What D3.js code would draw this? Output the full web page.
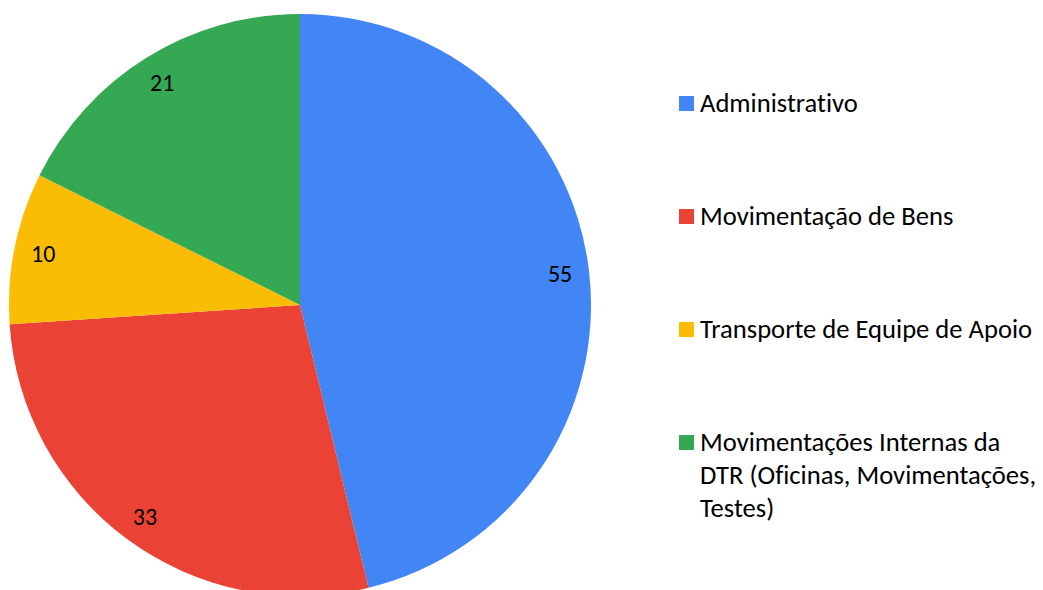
<!DOCTYPE html>
<html>
<head>
<meta charset="utf-8">
<script src="https://cdn.jsdelivr.net/npm/d3@7"></script>
<style>
  html, body { margin: 0; padding: 0; background: #fff; }
  svg { display: block; }
  text { font-family: Carlito, Calibri, Lato, sans-serif; font-variant-ligatures: none; font-feature-settings: "liga" 0; }
</style>
</head>
<body>
<svg id="chart" width="1043" height="590"></svg>
<script>
const categories = [
  "Administrativo",
  "Movimentação de Bens",
  "Transporte de Equipe de Apoio",
  "Movimentações Internas da DTR (Oficinas, Movimentações, Testes)"
];
const legendLines = [
  ["Administrativo"],
  ["Movimentação de Bens"],
  ["Transporte de Equipe de Apoio"],
  ["Movimentações Internas da", "DTR (Oficinas, Movimentações,", "Testes)"]
];
const values = [55, 33, 10, 21];
const colors = ["#4285F4", "#EA4335", "#FBBC04", "#34A853"];

const W = 1043, H = 590;
const cx = 300, cy = 305, R = 291;
const fontSize = 26.6;

const svg = d3.select("#chart");
const data = categories.map((c, i) => ({ cat: c, value: values[i], color: colors[i], lines: legendLines[i] }));

const pie = d3.pie().value(d => d.value).sort(null).startAngle(0).endAngle(2 * Math.PI);
const arcs = pie(data);
const arc = d3.arc().innerRadius(0).outerRadius(R);
const labelArc = d3.arc().innerRadius(R * 0.9).outerRadius(R * 0.9);

const g = svg.append("g").attr("transform", `translate(${cx},${cy})`);
g.selectAll("path.slice").data(arcs).join("path")
  .attr("class", "slice")
  .attr("d", arc)
  .attr("fill", d => d.data.color);

g.selectAll("text.lbl").data(arcs).join("text")
  .attr("class", "lbl")
  .attr("transform", d => `translate(${labelArc.centroid(d)})`)
  .attr("text-anchor", "middle")
  .attr("dominant-baseline", "central")
  .attr("font-size", 24)
  .attr("fill", "#000")
  .text(d => d.data.value);

// Legend
const legX = 679, textX = 700;
const rowY = [103, 216, 329, 442];
const lineH = 33;
const leg = svg.append("g");
data.forEach((d, i) => {
  const y0 = rowY[i];
  leg.append("rect")
    .attr("x", legX).attr("y", y0 - 7)
    .attr("width", 15).attr("height", 15)
    .attr("fill", d.color);
  const t = leg.append("text")
    .attr("x", textX).attr("y", y0)
    .attr("font-size", fontSize)
    .attr("fill", "#000")
    .attr("dominant-baseline", "central");
  d.lines.forEach((ln, j) => {
    t.append("tspan").attr("x", textX).attr("y", y0 + j * lineH).text(ln);
  });
});
</script>
</body>
</html>
